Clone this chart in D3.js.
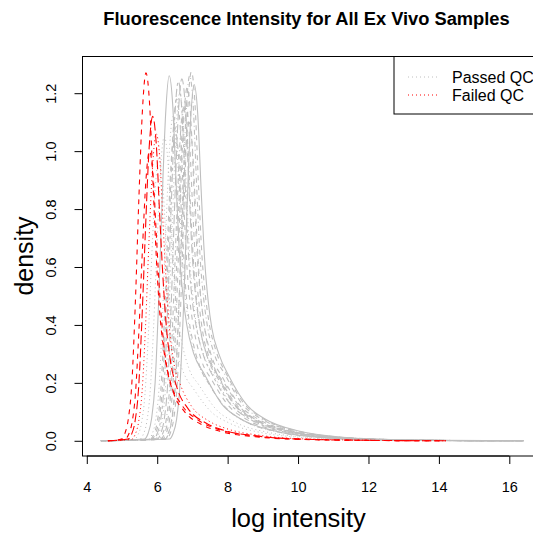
<!DOCTYPE html>
<html>
<head>
<meta charset="utf-8">
<script src="https://cdn.jsdelivr.net/npm/d3@7"></script>
<style>
  body { margin: 0; background: #fff; }
  svg { display: block; font-family: "Liberation Sans", Arial, Helvetica, sans-serif; }
</style>
</head>
<body>
<div id="chart"></div>
<script>
// density curves, [log intensity, density]
var passedCurves = [
  [[4.4,0],[5.64,0.006],[5.74,0.025],[5.84,0.076],[5.94,0.2],[6.04,0.48],[6.14,0.83],[6.24,1.13],[6.34,1.26],[6.44,1.16],[6.54,0.88],[6.64,0.63],[6.74,0.49],[6.84,0.4],[7.04,0.3],[7.34,0.23],[7.84,0.126],[8.34,0.078],[9.34,0.034],[10.34,0.015],[11.34,0.007],[13.34,0.0016],[16.4,0]],
  [[4.4,0],[6.27,0.006],[6.37,0.026],[6.47,0.077],[6.57,0.2],[6.67,0.48],[6.77,0.84],[6.87,1.15],[6.97,1.275],[7.07,1.17],[7.17,0.89],[7.27,0.64],[7.37,0.5],[7.47,0.41],[7.67,0.31],[7.97,0.23],[8.47,0.128],[8.97,0.079],[9.97,0.034],[10.97,0.015],[11.97,0.007],[13.97,0.0017],[16.4,0]],
  [[4.4,0],[6.35,0.006],[6.45,0.025],[6.55,0.074],[6.65,0.2],[6.75,0.47],[6.85,0.81],[6.95,1.11],[7.05,1.23],[7.15,1.13],[7.25,0.86],[7.35,0.62],[7.45,0.48],[7.55,0.39],[7.75,0.3],[8.05,0.22],[8.55,0.123],[9.05,0.076],[10.05,0.033],[11.05,0.015],[12.05,0.0068],[14.05,0.0016],[16.4,0]],
  [[4.4,0],[5.94,0.006],[6.04,0.024],[6.14,0.072],[6.24,0.19],[6.34,0.46],[6.44,0.79],[6.54,1.08],[6.64,1.2],[6.74,1.1],[6.84,0.84],[6.94,0.6],[7.04,0.47],[7.14,0.38],[7.34,0.29],[7.64,0.22],[8.14,0.12],[8.64,0.074],[9.64,0.032],[10.64,0.014],[11.64,0.0066],[13.64,0.0016],[16.4,0]],
  [[4.4,0],[5.85,0.006],[5.95,0.024],[6.05,0.071],[6.15,0.19],[6.25,0.45],[6.35,0.78],[6.45,1.06],[6.55,1.18],[6.65,1.09],[6.75,0.83],[6.85,0.59],[6.95,0.46],[7.05,0.38],[7.25,0.28],[7.55,0.21],[8.05,0.118],[8.55,0.073],[9.55,0.032],[10.55,0.014],[11.55,0.0065],[13.55,0.0015],[16.4,0]],
  [[4.4,0],[6.05,0.006],[6.15,0.023],[6.25,0.069],[6.35,0.18],[6.45,0.44],[6.55,0.76],[6.65,1.04],[6.75,1.15],[6.85,1.06],[6.95,0.8],[7.05,0.58],[7.15,0.45],[7.25,0.37],[7.45,0.28],[7.75,0.21],[8.25,0.115],[8.75,0.071],[9.75,0.031],[10.75,0.014],[11.75,0.0063],[13.75,0.0015],[16.4,0]],
  [[4.4,0],[6.15,0.006],[6.25,0.024],[6.35,0.073],[6.45,0.2],[6.55,0.46],[6.65,0.81],[6.75,1.1],[6.85,1.22],[6.95,1.12],[7.05,0.85],[7.15,0.61],[7.25,0.48],[7.35,0.39],[7.55,0.29],[7.85,0.22],[8.35,0.122],[8.85,0.076],[9.85,0.033],[10.85,0.015],[11.85,0.0067],[13.85,0.0016],[16.4,0]],
  [[4.4,0],[5.75,0.006],[5.85,0.022],[5.95,0.067],[6.05,0.18],[6.15,0.43],[6.25,0.74],[6.35,1.01],[6.45,1.12],[6.55,1.03],[6.65,0.78],[6.75,0.56],[6.85,0.44],[6.95,0.36],[7.15,0.27],[7.45,0.2],[7.95,0.112],[8.45,0.069],[9.45,0.03],[10.45,0.013],[11.45,0.0062],[13.45,0.0015],[16.4,0]],
  [[4.4,0],[6.0,0.006],[6.1,0.025],[6.2,0.075],[6.3,0.2],[6.4,0.48],[6.5,0.83],[6.6,1.13],[6.7,1.25],[6.8,1.15],[6.9,0.88],[7.0,0.63],[7.1,0.49],[7.2,0.4],[7.4,0.3],[7.7,0.23],[8.2,0.125],[8.7,0.078],[9.7,0.034],[10.7,0.015],[11.7,0.0069],[13.7,0.0016],[16.4,0]],
  [[4.4,0],[5.5,0.005],[5.6,0.021],[5.7,0.063],[5.8,0.17],[5.9,0.4],[6.0,0.69],[6.1,0.95],[6.2,1.05],[6.3,0.97],[6.4,0.74],[6.5,0.53],[6.6,0.41],[6.7,0.34],[6.9,0.25],[7.2,0.19],[7.7,0.105],[8.2,0.065],[9.2,0.028],[10.2,0.013],[11.2,0.0058],[13.2,0.0014],[16.4,0]],
  [[4.4,0],[6.2,0.006],[6.3,0.022],[6.4,0.066],[6.5,0.18],[6.6,0.42],[6.7,0.73],[6.8,0.99],[6.9,1.1],[7.0,1.01],[7.1,0.77],[7.2,0.55],[7.3,0.43],[7.4,0.35],[7.6,0.26],[7.9,0.2],[8.4,0.11],[8.9,0.068],[9.9,0.03],[10.9,0.013],[11.9,0.006],[13.9,0.0014],[16.4,0]],
  [[4.4,0],[5.9,0.006],[6.0,0.025],[6.1,0.074],[6.2,0.2],[6.3,0.47],[6.4,0.82],[6.5,1.12],[6.6,1.24],[6.7,1.14],[6.8,0.87],[6.9,0.62],[7.0,0.48],[7.1,0.4],[7.3,0.3],[7.6,0.22],[8.1,0.124],[8.6,0.077],[9.6,0.033],[10.6,0.015],[11.6,0.0068],[13.6,0.0016],[16.4,0]],
  [[4.4,0],[5.35,0.005],[5.45,0.02],[5.55,0.059],[5.65,0.157],[5.75,0.37],[5.85,0.65],[5.95,0.88],[6.05,0.98],[6.15,0.9],[6.25,0.69],[6.35,0.49],[6.45,0.38],[6.55,0.31],[6.75,0.235],[7.05,0.176],[7.55,0.098],[8.05,0.061],[9.05,0.026],[10.05,0.012],[11.05,0.0054],[13.05,0.0013],[16.4,0]],
  [[4.4,0],[6.1,0.006],[6.2,0.023],[6.3,0.07],[6.4,0.19],[6.5,0.44],[6.6,0.77],[6.7,1.05],[6.8,1.17],[6.9,1.08],[7.0,0.82],[7.1,0.59],[7.2,0.46],[7.3,0.37],[7.5,0.28],[7.8,0.21],[8.3,0.117],[8.8,0.073],[9.8,0.032],[10.8,0.014],[11.8,0.0064],[13.8,0.0015],[16.4,0]],
  [[4.4,0],[6.22,0.006],[6.32,0.025],[6.42,0.076],[6.52,0.2],[6.62,0.48],[6.72,0.83],[6.82,1.13],[6.92,1.26],[7.02,1.16],[7.12,0.88],[7.22,0.63],[7.32,0.49],[7.42,0.4],[7.62,0.3],[7.92,0.23],[8.42,0.126],[8.92,0.078],[9.92,0.034],[10.92,0.015],[11.92,0.007],[13.92,0.0016],[16.4,0]],
  [[4.4,0],[5.8,0.005],[5.9,0.022],[6.0,0.065],[6.1,0.17],[6.2,0.41],[6.3,0.71],[6.4,0.97],[6.5,1.08],[6.6,0.99],[6.7,0.76],[6.8,0.54],[6.9,0.42],[7.0,0.35],[7.2,0.26],[7.5,0.19],[8.0,0.108],[8.5,0.067],[9.5,0.029],[10.5,0.013],[11.5,0.006],[13.5,0.0014],[16.4,0]]
];
var passedLty = [1, 2, 1, 3, 2, 4, 2, 3, 5, 3, 2, 6, 3, 2, 4, 2];

var failedCurves = [
  [[4.6,0],[4.98,0.006],[5.08,0.025],[5.18,0.076],[5.28,0.2],[5.38,0.48],[5.48,0.84],[5.58,1.14],[5.68,1.27],[5.78,1.17],[5.88,0.89],[5.98,0.62],[6.08,0.43],[6.18,0.32],[6.38,0.2],[6.68,0.127],[7.18,0.07],[7.68,0.042],[8.68,0.018],[9.68,0.0076],[11.68,0.0019],[14.2,0]],
  [[4.6,0],[5.17,0.006],[5.27,0.022],[5.37,0.067],[5.47,0.18],[5.57,0.43],[5.67,0.74],[5.77,1.01],[5.87,1.12],[5.97,1.03],[6.07,0.78],[6.17,0.55],[6.27,0.38],[6.37,0.28],[6.57,0.18],[6.87,0.112],[7.37,0.062],[7.87,0.037],[8.87,0.016],[9.87,0.0067],[11.87,0.0017],[14.2,0]],
  [[4.6,0],[5.27,0.005],[5.37,0.021],[5.47,0.064],[5.57,0.17],[5.67,0.4],[5.77,0.7],[5.87,0.95],[5.97,1.06],[6.07,0.98],[6.17,0.74],[6.27,0.52],[6.37,0.36],[6.47,0.27],[6.67,0.19],[6.97,0.12],[7.47,0.068],[7.97,0.042],[8.97,0.018],[9.97,0.0075],[11.97,0.0019],[14.2,0]],
  [[4.6,0],[5.08,0.005],[5.18,0.02],[5.28,0.06],[5.38,0.16],[5.48,0.38],[5.58,0.66],[5.68,0.9],[5.78,1.0],[5.88,0.92],[5.98,0.7],[6.08,0.49],[6.18,0.34],[6.28,0.25],[6.48,0.16],[6.78,0.1],[7.28,0.055],[7.78,0.033],[8.78,0.014],[9.78,0.006],[11.78,0.0015],[14.2,0]]
];
var failedLty = [2, 5, 3, 2];

var xTicks = [4, 6, 8, 10, 12, 14, 16];
var yTicks = [0, 0.2, 0.4, 0.6, 0.8, 1.0, 1.2];
var legendLabels = ["Passed QC", "Failed QC"];
var legendColors = ["#bebebe", "#ff0000"];

var W = 533, H = 536;
var plot = {left: 82.5, top: 56.5, right: 541, bottom: 456};

// R style line types
var dashes = {1: null, 2: "5,5", 3: "1,3", 4: "1,3,5,3", 5: "9,4", 6: "3,3,8,3"};

var x = d3.scaleLinear().domain([3.878, 16.9]).range([plot.left, plot.right]);
var y = d3.scaleLinear().domain([-0.0525, 1.3267]).range([plot.bottom, plot.top]);

var svg = d3.select("#chart").append("svg")
  .attr("width", W).attr("height", H);

svg.append("defs").append("clipPath").attr("id", "clip")
  .append("rect")
  .attr("x", plot.left).attr("y", plot.top)
  .attr("width", plot.right - plot.left).attr("height", plot.bottom - plot.top);

var line = d3.line()
  .x(function(d){ return x(d[0]); })
  .y(function(d){ return y(d[1]); })
  .curve(d3.curveMonotoneX);

var curves = svg.append("g").attr("clip-path", "url(#clip)");

function drawSet(data, ltys, color){
  data.forEach(function(c, i){
    curves.append("path")
      .attr("d", line(c))
      .attr("fill", "none")
      .attr("stroke", color)
      .attr("stroke-width", ltys[i] == 3 ? 1 : 1.1)
      .attr("stroke-dasharray", dashes[ltys[i]]);
  });
}

drawSet(passedCurves, passedLty, "#bebebe");
drawSet(failedCurves, failedLty, "#ff0000");

// box
svg.append("rect")
  .attr("x", plot.left).attr("y", plot.top)
  .attr("width", plot.right - plot.left).attr("height", plot.bottom - plot.top)
  .attr("fill", "none").attr("stroke", "#000").attr("stroke-width", 1);

// axes
var xAxis = svg.append("g")
  .attr("transform", "translate(0," + plot.bottom + ")")
  .call(d3.axisBottom(x).tickValues(xTicks).tickFormat(d3.format("d")).tickSizeOuter(0).tickSizeInner(8).tickPadding(18));
xAxis.select(".domain").attr("d", "M" + x(4) + ",0H" + x(16));
xAxis.selectAll("text").attr("font-size", "14.5px").attr("fill", "#000")
  .attr("font-family", "'Liberation Sans', Arial, sans-serif");

var yAxis = svg.append("g")
  .attr("transform", "translate(" + plot.left + ",0)")
  .call(d3.axisLeft(y).tickValues(yTicks).tickFormat(d3.format(".1f")).tickSizeOuter(0).tickSizeInner(8));
yAxis.select(".domain").attr("d", "M0," + y(0) + "V" + y(1.2));
yAxis.selectAll("text")
  .attr("font-size", "14.5px").attr("fill", "#000")
  .attr("font-family", "'Liberation Sans', Arial, sans-serif")
  .attr("x", null).attr("dy", null)
  .attr("text-anchor", "middle")
  .attr("transform", "translate(-27,0) rotate(-90)");

// title and labels
svg.append("text")
  .attr("x", 306.5).attr("y", 25)
  .attr("text-anchor", "middle")
  .attr("font-size", "18.3px").attr("font-weight", "bold")
  .text("Fluorescence Intensity for All Ex Vivo Samples");

svg.append("text")
  .attr("x", 298.5).attr("y", 527)
  .attr("text-anchor", "middle")
  .attr("font-size", "25.5px")
  .text("log intensity");

svg.append("text")
  .attr("transform", "translate(33,256) rotate(-90)")
  .attr("text-anchor", "middle")
  .attr("font-size", "25px")
  .text("density");

// legend
var lg = svg.append("g");
lg.append("rect")
  .attr("x", 394).attr("y", plot.top)
  .attr("width", 150).attr("height", 57.5)
  .attr("fill", "#fff").attr("stroke", "#000").attr("stroke-width", 1);

legendLabels.forEach(function(lab, i){
  var yy = 77 + i * 18;
  lg.append("line")
    .attr("x1", 408).attr("x2", 437)
    .attr("y1", yy).attr("y2", yy)
    .attr("stroke", legendColors[i]).attr("stroke-width", 1)
    .attr("stroke-dasharray", dashes[3]);
  lg.append("text")
    .attr("x", 452).attr("y", yy + 5.5)
    .attr("font-size", "16px")
    .text(lab);
});
</script>
</body>
</html>
